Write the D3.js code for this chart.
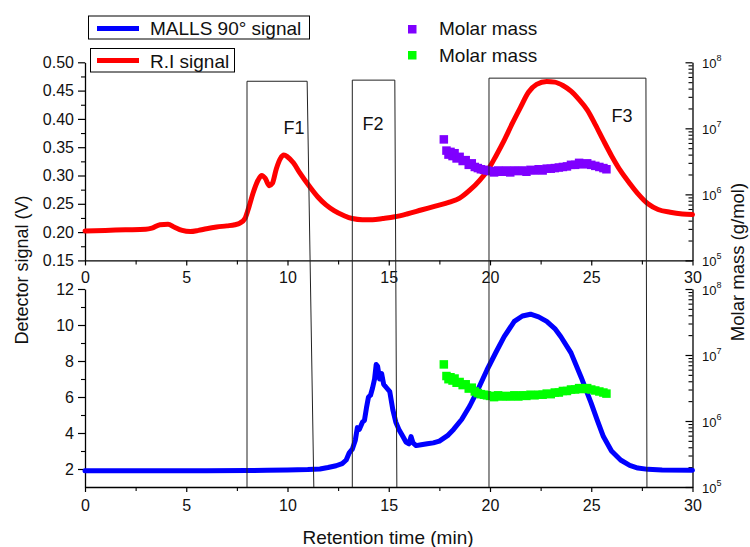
<!DOCTYPE html>
<html><head><meta charset="utf-8">
<script src="https://d3js.org/d3.v7.min.js"></script>
<style>
body{margin:0;background:#fff;}
svg{display:block;font-family:"Liberation Sans",Arial,sans-serif;}
</style></head>
<body><svg id="c" width="750" height="547"></svg>
<script>
// ---- data ----
const riTime = [0,1,2,3,3.3,3.7,4.1,4.4,4.8,5.2,5.6,6.0,6.5,7.0,7.4,7.65,7.9,8.1,8.3,8.55,8.73,8.9,9.1,9.25,9.45,9.65,9.82,10.0,10.3,10.6,11.1,11.5,11.9,12.3,12.8,13.2,13.7,14.2,14.7,15.3,15.9,16.6,17.3,18.0,18.5,19.0,19.5,19.9,20.3,20.7,21.1,21.5,21.9,22.3,22.8,23.2,23.6,24.0,24.4,24.8,25.2,25.6,26.0,26.45,26.9,27.3,27.8,28.3,28.9,29.5,30];
const riSignal = [0.202,0.203,0.204,0.205,0.207,0.213,0.214,0.209,0.203,0.201,0.203,0.206,0.209,0.211,0.213,0.216,0.224,0.245,0.269,0.292,0.300,0.295,0.282,0.286,0.312,0.330,0.336,0.333,0.322,0.305,0.280,0.262,0.248,0.238,0.229,0.224,0.222,0.222,0.224,0.227,0.232,0.239,0.246,0.253,0.260,0.274,0.292,0.310,0.335,0.362,0.392,0.420,0.447,0.461,0.466,0.465,0.459,0.449,0.434,0.416,0.390,0.362,0.335,0.308,0.286,0.268,0.250,0.240,0.235,0.232,0.231];

const mallsTime = [0,2,4,6,8,9,10,11,11.6,12.0,12.4,12.7,12.9,13.05,13.2,13.35,13.45,13.55,13.7,13.8,13.9,14.0,14.1,14.2,14.3,14.38,14.45,14.55,14.65,14.75,14.9,15.05,15.2,15.35,15.5,15.7,15.85,16.0,16.1,16.2,16.35,16.6,16.9,17.2,17.5,17.9,18.2,18.6,19.0,19.4,19.85,20.3,20.7,21.2,21.6,22.0,22.4,22.8,23.2,23.5,24.0,24.5,25.0,25.3,25.6,26.0,26.45,26.9,27.3,27.8,28.5,30];
const mallsSignal = [1.90,1.90,1.90,1.90,1.91,1.93,1.95,1.97,2.0,2.08,2.18,2.3,2.5,2.9,3.1,3.6,4.3,4.2,4.6,4.7,5.4,6.0,6.1,6.5,7.0,7.8,7.7,7.0,7.3,6.7,6.5,6.3,5.3,4.6,4.2,3.8,3.5,3.4,3.8,3.45,3.3,3.35,3.4,3.45,3.55,3.85,4.2,4.75,5.5,6.4,7.5,8.5,9.35,10.2,10.5,10.6,10.45,10.2,9.8,9.35,8.45,7.1,5.65,4.7,3.8,3.0,2.5,2.2,2.05,1.98,1.94,1.93];

const mmTime = [17.72,17.85,17.95,18.05,18.15,18.25,18.35,18.5,18.65,18.8,18.95,19.1,19.25,19.4,19.55,19.7,19.85,20.0,20.2,20.4,20.6,20.8,21.0,21.2,21.4,21.6,21.8,22.0,22.2,22.4,22.6,22.8,23.0,23.2,23.4,23.6,23.8,24.0,24.2,24.4,24.6,24.8,25.0,25.2,25.4,25.6,25.75];
const mmRI = [6.8e6,4.6e6,4.0e6,4.4e6,3.8e6,4.2e6,3.5e6,3.7e6,3.2e6,3.3e6,2.8e6,2.95e6,2.6e6,2.5e6,2.4e6,2.35e6,2.3e6,2.25e6,2.15e6,2.3e6,2.2e6,2.3e6,2.15e6,2.3e6,2.25e6,2.3e6,2.2e6,2.35e6,2.3e6,2.4e6,2.3e6,2.45e6,2.45e6,2.5e6,2.55e6,2.6e6,2.65e6,2.8e6,2.8e6,3.0e6,2.85e6,2.95e6,2.8e6,2.7e6,2.6e6,2.5e6,2.4e6];
const mmMALLS = [7.2e6,4.8e6,4.3e6,4.6e6,4.1e6,4.4e6,3.8e6,3.9e6,3.5e6,3.6e6,3.1e6,3.2e6,2.8e6,2.65e6,2.55e6,2.5e6,2.45e6,2.4e6,2.3e6,2.45e6,2.35e6,2.4e6,2.35e6,2.45e6,2.35e6,2.45e6,2.4e6,2.5e6,2.45e6,2.5e6,2.5e6,2.6e6,2.55e6,2.7e6,2.7e6,2.85e6,2.85e6,3.0e6,3.0e6,3.15e6,3.05e6,3.15e6,3.0e6,2.9e6,2.8e6,2.7e6,2.6e6];

// fractions: start time, end time (top), end time (bottom), top signal value (top panel)
const fracNames = ["F1","F2","F3"];
const fracStart = [8.0, 13.2, 19.95];
const fracEndTop = [10.97, 15.3, 27.7];
const fracEndBottom = [11.3, 15.4, 27.75];
const fracTopLevel = [0.4665, 0.4685, 0.472];

const xTicks = [0,5,10,15,20,25,30];
const topYTicks = [0.15,0.20,0.25,0.30,0.35,0.40,0.45,0.50];
const botYTicks = [2,4,6,8,10,12];
const massTicks = [1e5,1e6,1e7,1e8];

// ---- layout ----
const svg = d3.select("#c");
const X0 = 85, X1 = 692.5;
const topT = 62.3, topB = 260.4, botT = 289, botB = 487;
const x = d3.scaleLinear().domain([0,30]).range([X0,X1]);
const yTop = d3.scaleLinear().domain([0.15,0.50]).range([topB,topT]);
const yBot = d3.scaleLinear().domain([1,12]).range([botB,botT]);
const mTop = d3.scaleLog().domain([1e5,1e8]).range([topB,topT]);
const mBot = d3.scaleLog().domain([1e5,1e8]).range([botB,botT]);

const FS = 16;
function styleAxis(g){
  g.selectAll("path.domain").attr("stroke","#000").attr("stroke-width",1.3);
  g.selectAll(".tick line").attr("stroke","#000").attr("stroke-width",1.2);
  g.selectAll(".tick text").attr("font-size",FS).attr("fill","#111").attr("font-family","Liberation Sans, Arial, sans-serif");
}
function minor(g, axisGen){ g.call(axisGen); g.selectAll("text").remove(); g.select("path.domain").remove(); g.selectAll(".tick line").attr("stroke","#000").attr("stroke-width",1.1); }

// minor ticks
const xMinor = [2.5,7.5,12.5,17.5,22.5,27.5];
svg.append("g").attr("transform",`translate(0,${topB})`).call(g=>minor(g,d3.axisBottom(x).tickValues(xMinor).tickSize(4).tickSizeOuter(0)));
svg.append("g").attr("transform",`translate(0,${botB})`).call(g=>minor(g,d3.axisBottom(x).tickValues(xMinor).tickSize(4).tickSizeOuter(0)));
const tyMinor = [0.175,0.225,0.275,0.325,0.375,0.425,0.475];
svg.append("g").attr("transform",`translate(${X0},0)`).call(g=>minor(g,d3.axisLeft(yTop).tickValues(tyMinor).tickSize(4).tickSizeOuter(0)));
const byMinor = [3,5,7,9,11];
svg.append("g").attr("transform",`translate(${X0},0)`).call(g=>minor(g,d3.axisLeft(yBot).tickValues(byMinor).tickSize(4).tickSizeOuter(0)));
const logMinor = [];
[1e5,1e6,1e7].forEach(d=>{for(let k=2;k<=9;k++) logMinor.push(d*k);});
svg.append("g").attr("transform",`translate(${X1},0)`).call(g=>minor(g,d3.axisLeft(mTop).tickValues(logMinor).tickSize(4).tickSizeOuter(0)));
svg.append("g").attr("transform",`translate(${X1},0)`).call(g=>minor(g,d3.axisLeft(mBot).tickValues(logMinor).tickSize(4).tickSizeOuter(0)));

// major axes
svg.append("g").attr("transform",`translate(0,${topB})`)
  .call(d3.axisBottom(x).tickValues(xTicks).tickSize(5).tickSizeOuter(0).tickPadding(6).tickFormat(d3.format("d")))
  .call(styleAxis);
svg.append("g").attr("transform",`translate(0,${botB})`)
  .call(d3.axisBottom(x).tickValues(xTicks).tickSize(5).tickSizeOuter(0).tickPadding(8).tickFormat(d3.format("d")))
  .call(styleAxis);
svg.append("g").attr("transform",`translate(${X0},0)`)
  .call(d3.axisLeft(yTop).tickValues(topYTicks).tickSize(7).tickSizeOuter(0).tickPadding(4).tickFormat(d3.format(".2f")))
  .call(styleAxis);
svg.append("g").attr("transform",`translate(${X0},0)`)
  .call(d3.axisLeft(yBot).tickValues(botYTicks).tickSize(7).tickSizeOuter(0).tickPadding(4).tickFormat(d3.format("d")))
  .call(styleAxis);

function logAxis(scale){
  return g=>{
    g.call(d3.axisLeft(scale).tickValues(massTicks).tickSize(7).tickSizeOuter(0).tickFormat(""));
    styleAxis(g);
    g.selectAll(".tick").each(function(d){
      const t = d3.select(this).append("text").attr("x",9.5).attr("y",5).attr("text-anchor","start")
        .attr("font-size",13).attr("fill","#111");
      t.append("tspan").text("10");
      t.append("tspan").attr("dy",-7).attr("font-size",9).text(Math.round(Math.log10(d)));
    });
  };
}
svg.append("g").attr("transform",`translate(${X1},0)`).call(logAxis(mTop));
svg.append("g").attr("transform",`translate(${X1},0)`).call(logAxis(mBot));

// curves
const riLine = d3.line().x((d,i)=>x(riTime[i])).y(d=>yTop(d)).curve(d3.curveMonotoneX);
svg.append("path").datum(riSignal).attr("d",riLine).attr("fill","none").attr("stroke","#ff0000").attr("stroke-width",5).attr("stroke-linejoin","round").attr("stroke-linecap","round");
const mallsLine = d3.line().x((d,i)=>x(mallsTime[i])).y(d=>yBot(d)).curve(d3.curveLinear);
svg.append("path").datum(mallsSignal).attr("d",mallsLine).attr("fill","none").attr("stroke","#0000ff").attr("stroke-width",5).attr("stroke-linejoin","round").attr("stroke-linecap","round");

// molar mass squares
const SQ = 8.5;
svg.append("g").selectAll("rect").data(mmRI).join("rect")
  .attr("x",(d,i)=>x(mmTime[i])-SQ/2).attr("y",d=>mTop(d)-SQ/2).attr("width",SQ).attr("height",SQ).attr("fill","#7f00ff");
svg.append("g").selectAll("rect").data(mmMALLS).join("rect")
  .attr("x",(d,i)=>x(mmTime[i])-SQ/2).attr("y",d=>mBot(d)-SQ/2).attr("width",SQ).attr("height",SQ).attr("fill","#00ff00");

// fraction boxes
const fg = svg.append("g");
fracNames.forEach((n,i)=>{
  const pts = [[x(fracStart[i]), botB],[x(fracStart[i]), yTop(fracTopLevel[i])],[x(fracEndTop[i]), yTop(fracTopLevel[i])],[x(fracEndBottom[i]), botB]];
  fg.append("path").attr("d",d3.line()(pts)).attr("fill","none").attr("stroke","#222").attr("stroke-width",1);
});
const fLabelX = [9.8, 13.7, 26.0];
const fLabelY = [0.374, 0.38, 0.394];
fracNames.forEach((n,i)=>{
  fg.append("text").attr("x",x(fLabelX[i])).attr("y",yTop(fLabelY[i])).attr("font-size",18).attr("fill","#111").text(n);
});

// legends
const lg = svg.append("g");
lg.append("rect").attr("x",88.5).attr("y",16).attr("width",221).attr("height",23).attr("fill","#fff").attr("stroke","#000").attr("stroke-width",1);
lg.append("line").attr("x1",97).attr("x2",139).attr("y1",28.5).attr("y2",28.5).attr("stroke","#0000ff").attr("stroke-width",5);
lg.append("text").attr("x",150).attr("y",35).attr("font-size",19).attr("fill","#111").text("MALLS 90° signal");
lg.append("rect").attr("x",90.5).attr("y",48.5).attr("width",144).attr("height",23.5).attr("fill","#fff").attr("stroke","#000").attr("stroke-width",1);
lg.append("line").attr("x1",97).attr("x2",139).attr("y1",60.5).attr("y2",60.5).attr("stroke","#ff0000").attr("stroke-width",5);
lg.append("text").attr("x",150).attr("y",67.5).attr("font-size",19).attr("fill","#111").text("R.I signal");
lg.append("rect").attr("x",408).attr("y",25).attr("width",8.5).attr("height",8.5).attr("fill","#7f00ff");
lg.append("text").attr("x",439).attr("y",35).attr("font-size",19).attr("fill","#111").text("Molar mass");
lg.append("rect").attr("x",408).attr("y",51).attr("width",8.5).attr("height",8.5).attr("fill","#00ff00");
lg.append("text").attr("x",439).attr("y",61.5).attr("font-size",19).attr("fill","#111").text("Molar mass");

// axis titles
svg.append("text").attr("transform","translate(28,270) rotate(-90)").attr("text-anchor","middle").attr("font-size",18).attr("fill","#111").text("Detector signal (V)");
svg.append("text").attr("transform","translate(744,262) rotate(-90)").attr("text-anchor","middle").attr("font-size",18.5).attr("fill","#111").text("Molar mass (g/mol)");
svg.append("text").attr("x",388).attr("y",544).attr("text-anchor","middle").attr("font-size",19).attr("fill","#111").text("Retention time (min)");
</script></body></html>
